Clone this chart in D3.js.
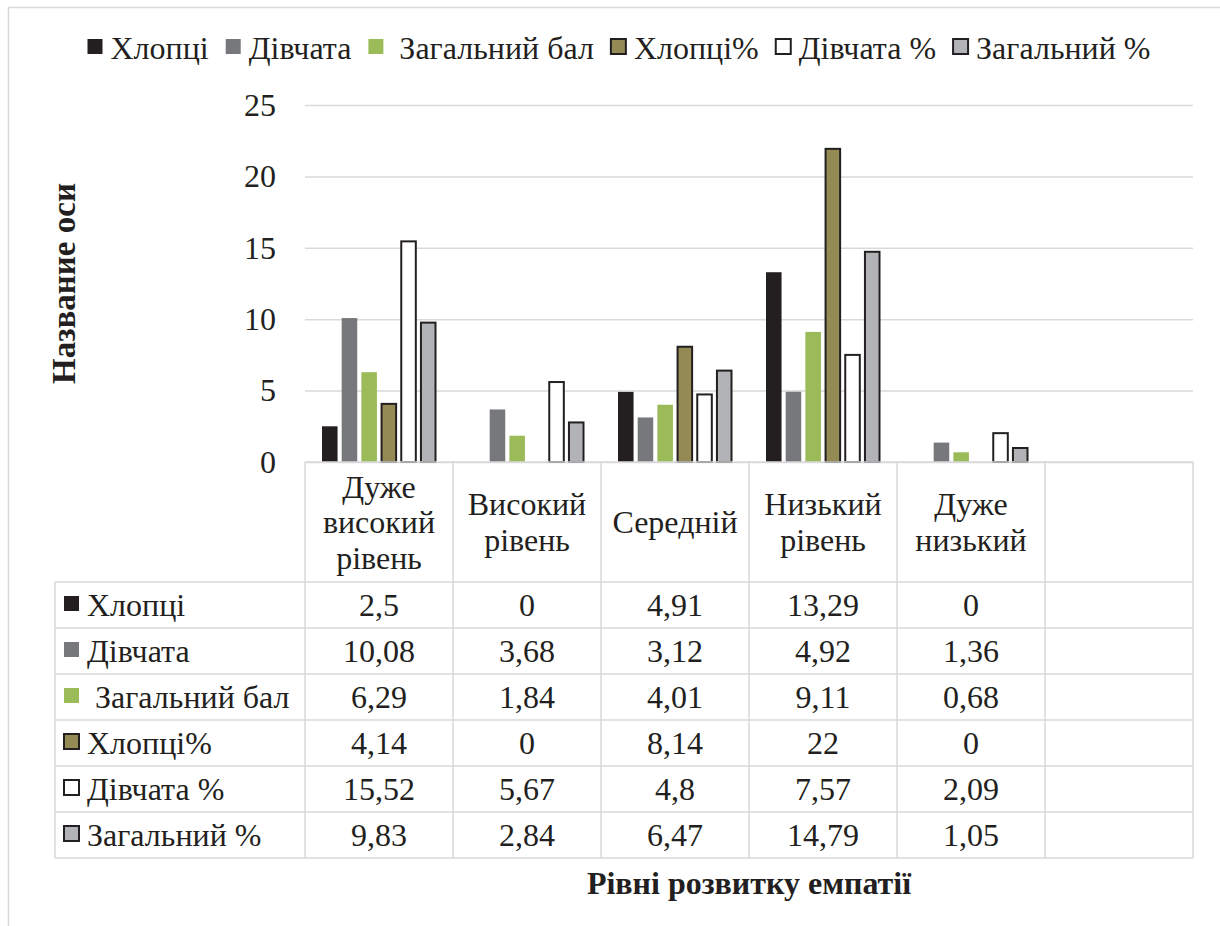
<!DOCTYPE html>
<html>
<head>
<meta charset="utf-8">
<script src="https://cdn.jsdelivr.net/npm/d3@7"></script>
<style>
html,body{margin:0;padding:0;background:#fff;}
svg{display:block;}
</style>
</head>
<body>
<svg id="chart" width="1220" height="926"></svg>
<script>
// ---- data ----
const categories = ["Дуже високий рівень", "Високий рівень", "Середній", "Низький рівень", "Дуже низький", ""];
const categoryLines = [["Дуже","високий","рівень"], ["Високий","рівень"], ["Середній"], ["Низький","рівень"], ["Дуже","низький"], []];
const seriesNames = ["Хлопці", "Дівчата", " Загальний бал", "Хлопці%", "Дівчата %", "Загальний %"];
const boys       = [2.5, 0, 4.91, 13.29, 0];
const girls      = [10.08, 3.68, 3.12, 4.92, 1.36];
const totalScore = [6.29, 1.84, 4.01, 9.11, 0.68];
const boysPct    = [4.14, 0, 8.14, 22, 0];
const girlsPct   = [15.52, 5.67, 4.8, 7.57, 2.09];
const totalPct   = [9.83, 2.84, 6.47, 14.79, 1.05];
const seriesValues = [boys, girls, totalScore, boysPct, girlsPct, totalPct];
const yTicks = [0, 5, 10, 15, 20, 25];
const yTitle = "Название оси";
const xTitle = "Рівні розвитку емпатії";

// ---- styles ----
const FONT = '"Liberation Serif", "Times New Roman", serif';
const INK = "#231f20";
const fills   = ["#231f20", "#77787b", "#9bbb59", "#948a54", "#ffffff", "#b1b3b6"];
const outlined = [false, false, false, true, true, true];
const gridColor = "#d9d9d9";
const fontSize = 32;

const svg = d3.select("#chart");
const plotLeft = 305, plotRight = 1193, plotTop = 105, plotBottom = 462;
const tableLeft = 55, headerBottom = 582, rowH = 46;

function txt(sel) {
  return sel.style("font-family", FONT).attr("fill", INK);
}

// frame
svg.append("path").attr("d", "M8.5,926 V7.5 H1220")
  .attr("fill","none").attr("stroke", gridColor).attr("stroke-width", 1.5);

const x0 = d3.scaleBand().domain(categories.map((c,i)=>i)).range([plotLeft, plotRight]).paddingInner(0).paddingOuter(0);
const x1 = d3.scaleBand().domain(seriesNames.map((s,i)=>i)).range([17, x0.bandwidth()-17]).paddingInner(0.21).paddingOuter(0);
const y = d3.scaleLinear().domain([0, 25]).range([plotBottom, plotTop]);

// gridlines
const grid = svg.append("g").attr("transform", `translate(${plotLeft},0)`)
  .call(d3.axisLeft(y).tickValues(yTicks).tickSize(-(plotRight-plotLeft)).tickFormat(""));
grid.select(".domain").remove();
grid.selectAll("line").attr("stroke", gridColor).attr("stroke-width", 1.5);

// y labels
const yAx = svg.append("g").attr("transform", `translate(${plotLeft},0)`)
  .call(d3.axisLeft(y).tickValues(yTicks).tickSize(0).tickPadding(29).tickFormat(d3.format("d")));
yAx.select(".domain").remove();
txt(yAx.selectAll("text")).attr("font-size", fontSize).attr("dy", "0.32em");

// bars
seriesValues.forEach((vals, si) => {
  svg.append("g").selectAll("rect").data(vals).join("rect")
    .attr("x", (d,i) => x0(i) + x1(si) + (outlined[si] ? 0.5 : 0))
    .attr("width", x1.bandwidth() - (outlined[si] ? 1 : 0))
    .attr("y", d => y(d) + (outlined[si] ? 1 : 0))
    .attr("height", d => Math.max(0, y(0) - y(d) - (outlined[si] ? 1 : 0)))
    .attr("fill", fills[si])
    .attr("stroke", outlined[si] ? INK : "none")
    .attr("stroke-width", outlined[si] ? 2 : 0)
    .style("display", d => d > 0 ? null : "none");
});

// table lines
const tableG = svg.append("g").attr("stroke", gridColor).attr("stroke-width", 1.5).attr("fill","none");
const tableBottom = headerBottom + rowH * seriesNames.length;
tableG.append("line").attr("x1", plotLeft).attr("x2", plotRight).attr("y1", plotBottom).attr("y2", plotBottom);
categories.forEach((c,i) => {
  tableG.append("line").attr("x1", x0(i)).attr("x2", x0(i)).attr("y1", plotBottom).attr("y2", tableBottom);
});
tableG.append("line").attr("x1", plotRight).attr("x2", plotRight).attr("y1", plotBottom).attr("y2", tableBottom);
tableG.append("line").attr("x1", tableLeft).attr("x2", tableLeft).attr("y1", headerBottom).attr("y2", tableBottom);
for (let r = 0; r <= seriesNames.length; r++) {
  tableG.append("line").attr("x1", tableLeft).attr("x2", plotRight)
    .attr("y1", headerBottom + r*rowH).attr("y2", headerBottom + r*rowH);
}

// category header labels
const lineH = 35.5;
const headerMid = (plotBottom + headerBottom) / 2;
categoryLines.forEach((lines, i) => {
  const cx = x0(i) + x0.bandwidth()/2;
  lines.forEach((ln, k) => {
    txt(svg.append("text")).attr("x", cx)
      .attr("y", headerMid + (k - (lines.length-1)/2) * lineH + 11)
      .attr("text-anchor", "middle").attr("font-size", fontSize).text(ln);
  });
});

// table rows
const fmt = v => String(v).replace(".", ",");
seriesNames.forEach((name, si) => {
  const rowY = headerBottom + si*rowH + rowH/2;
  svg.append("rect").attr("x", 64).attr("y", rowY - 9).attr("width", 15).attr("height", 15)
    .attr("fill", fills[si])
    .attr("stroke", outlined[si] ? INK : "none").attr("stroke-width", outlined[si] ? 2 : 0);
  txt(svg.append("text")).attr("x", 87).attr("y", rowY + 11).attr("font-size", fontSize)
    .attr("xml:space", "preserve").style("white-space", "pre").text(name);
  seriesValues[si].forEach((v, ci) => {
    txt(svg.append("text")).attr("x", x0(ci) + x0.bandwidth()/2).attr("y", rowY + 11)
      .attr("text-anchor", "middle").attr("font-size", fontSize).text(fmt(v));
  });
});

// legend
const legend = svg.append("g");
let lx = 0;
seriesNames.forEach((name, si) => {
  const g = legend.append("g");
  g.append("rect").attr("x", 0).attr("y", -9).attr("width", 15).attr("height", 15)
    .attr("fill", fills[si])
    .attr("stroke", outlined[si] ? INK : "none").attr("stroke-width", outlined[si] ? 2 : 0);
  const t = txt(g.append("text")).attr("x", 23).attr("y", 11).attr("font-size", fontSize)
    .attr("xml:space", "preserve").style("white-space", "pre").text(name);
  const w = 23 + t.node().getComputedTextLength();
  g.attr("transform", `translate(${lx},0)`);
  lx += w + 17;
});
const legendW = lx - 17;
legend.attr("transform", `translate(${619 - legendW/2},48)`);

// axis titles
txt(svg.append("text")).attr("transform", `translate(75,${(plotTop+plotBottom)/2}) rotate(-90)`)
  .attr("text-anchor", "middle").attr("font-size", 33).attr("font-weight", "bold").text(yTitle);
txt(svg.append("text")).attr("x", (plotLeft+plotRight)/2).attr("y", 894)
  .attr("text-anchor", "middle").attr("font-size", 32).attr("font-weight", "bold").text(xTitle);
</script>
</body>
</html>
